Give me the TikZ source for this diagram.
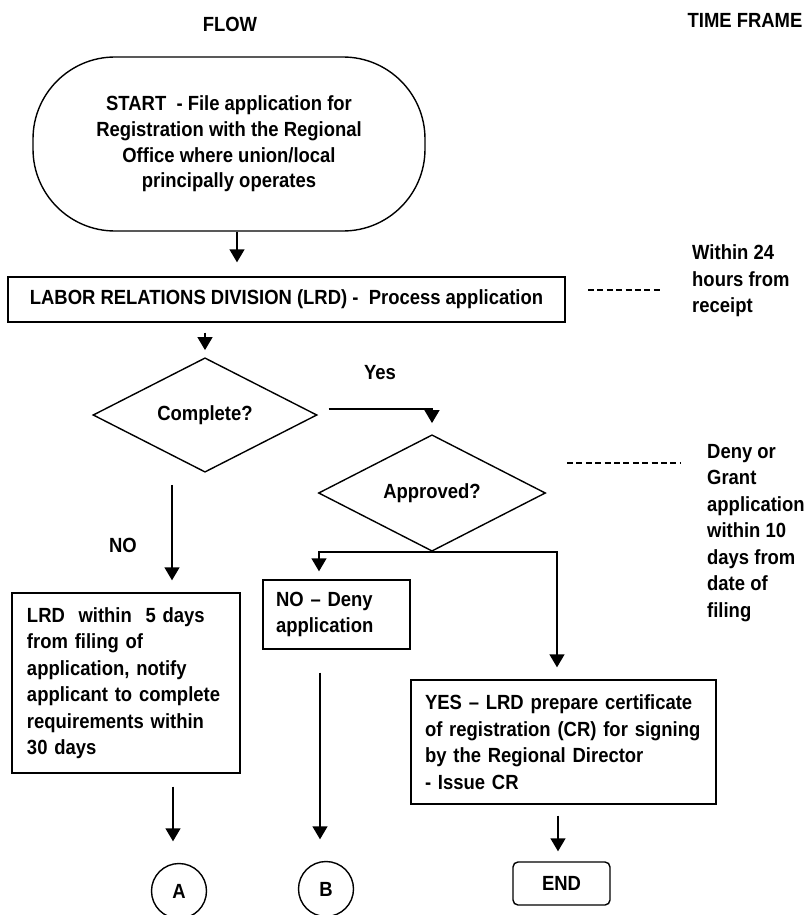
\documentclass[tikz,border=0pt]{standalone}
\usepackage{fontspec}
\setmainfont{Liberation Sans}[FakeStretch=0.9]
\usetikzlibrary{arrows.meta,shapes.geometric}
\begin{document}
\begin{tikzpicture}[x=1pt,y=-1pt,
  lw/.style={line width=1.4pt},
  txt/.style={font=\fontsize{20.5}{26.5}\selectfont\bfseries, inner sep=0pt},
  box/.style={txt, draw, lw, rectangle, align=left},
  dec/.style={txt, draw, lw, diamond},
  arr/.style={lw, -{Triangle[width=15pt,length=13pt]}},
  tf/.style={txt, align=left, anchor=west},
  dashln/.style={line width=1.2pt, dash pattern=on 6pt off 3.4pt},
  conn/.style={txt, draw, lw, circle, minimum size=55pt}
]
\useasboundingbox (0,0) rectangle (804,915);
\fill[white] (0,0) rectangle (804,915);

% headings
\node[txt] (flow) at (230,24) {FLOW};
\node[txt] (tframe) at (745,20) {TIME FRAME};

% nodes
\node[txt, draw, lw, rounded corners=82pt, minimum width=392pt, minimum height=174pt,
      align=center, font=\fontsize{20.5}{25.6}\selectfont\bfseries] (start) at (229,144)
  {START\ \ - File application for\\Registration with the Regional\\Office where union/local\\principally operates};

\node[box, align=center, minimum width=557pt, minimum height=45pt] (lrd) at (286.5,299.5)
  {LABOR RELATIONS DIVISION (LRD) -\ \ Process application};

\node[dec, minimum width=224pt, minimum height=80pt] (complete) at (205,415) {Complete?};
\node[dec, minimum width=227pt, minimum height=79pt] (approved) at (432,493) {Approved?};
\node[txt] (yes) at (380,373) {Yes};
\node[txt] (no) at (123,545) {NO};

\node[box, text width=198pt, inner xsep=15pt, minimum height=180pt] (lrd5) at (126,683)
  {LRD\ \ within\ \ 5 days\\from filing of\\application, notify\\applicant to complete\\requirements within\\30 days};

\node[box, text width=121pt, inner xsep=13pt, minimum height=69pt] (deny) at (336.5,614.5)
  {NO – Deny\\application};

\node[box, text width=277pt, inner xsep=14pt, minimum height=124pt] (yesbox) at (563.5,742)
  {YES – LRD prepare certificate\\of registration (CR) for signing\\by the Regional Director\\- Issue CR};

\node[box, align=center, rounded corners=5pt, minimum width=97pt, minimum height=43pt] (endbox) at (561.5,883.5) {END};
\node[conn] (acirc) at (179,891) {A};
\node[conn] (bcirc) at (326,889) {B};

% time frame texts
\node[tf] (t1) at (692,281) {Within 24\\hours from\\receipt};
\node[tf] (t2) at (707,533) {Deny or\\Grant\\application\\within 10\\days from\\date of\\filing};

% dashed leaders
\coordinate (d1a) at (588,290); \coordinate (d1b) at (662,290);
\coordinate (d2a) at (567,463); \coordinate (d2b) at (680,463);
\draw[dashln] (d1a) -- (d1b);
\draw[dashln] (d2a) -- (d2b);

% connectors
\draw[arr, shorten >=14pt] ([xshift=8pt]start.south) -- ([xshift=8pt]start.south |- lrd.north);
\draw[arr, shorten <=10pt, shorten >=7pt] (lrd.south -| complete.north) -- (complete.north);
\draw[arr, shorten >=11pt] ([shift={(11,-6)}]complete.east) -| (approved.north);
\draw[arr, shorten <=12pt, shorten >=12pt] ([xshift=-33pt]complete.south) -- ([xshift=-33pt]complete.south |- lrd5.north);
\draw[arr, shorten >=8pt] (approved.south) -| ([xshift=-17.5pt]deny.north);
\draw[arr, shorten >=12pt] (approved.south) -| ([xshift=-6.5pt]yesbox.north);
\draw[arr, shorten <=13pt, shorten >=21.5pt] ([xshift=47pt]lrd5.south) -- ([xshift=47pt]lrd5.south |- acirc.north);
\draw[arr, shorten <=23pt, shorten >=21.5pt] ([xshift=-16.5pt]deny.south) -- ([xshift=-16.5pt]deny.south |- bcirc.north);
\draw[arr, shorten <=11pt, shorten >=10pt] ([xshift=-5.5pt]yesbox.south) -- ([xshift=-5.5pt]yesbox.south |- endbox.north);
\end{tikzpicture}
\end{document}
